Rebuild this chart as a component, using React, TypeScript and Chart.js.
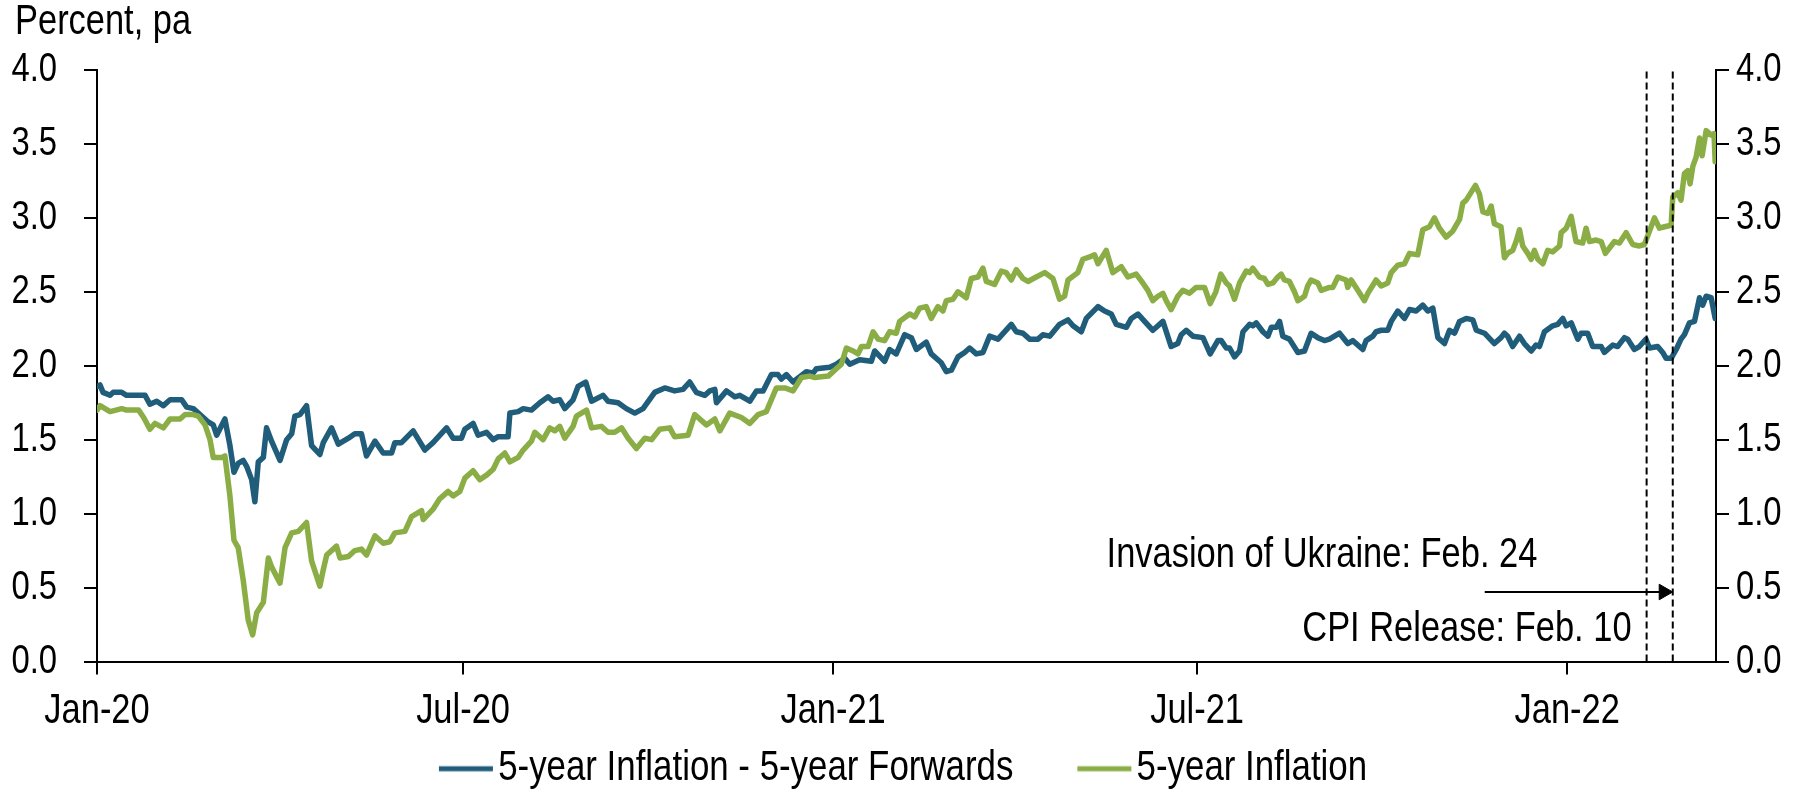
import React, { useEffect, useRef } from "react";
import { Chart, registerables } from "chart.js";

Chart.register(...registerables);

const FONT = "'Liberation Sans', Arial, sans-serif";
const NARROW = 0.82; // horizontal condensing, to mimic a narrow sans face
const BLUE = "#1F5D7A";
const GREEN = "#8AAE45";

// x axis: days since 1 Jan 2020
const tickDays = [0, 182, 366, 547, 731];
const tickLabels = ["Jan-20", "Jul-20", "Jan-21", "Jul-21", "Jan-22"];
const yTickValues = [0, 0.5, 1, 1.5, 2, 2.5, 3, 3.5, 4];
const seriesNames = ["5-year Inflation - 5-year Forwards", "5-year Inflation"];
const axisTitle = "Percent, pa";

const blueDays = [
  0, 1.5, 3, 6.5, 8, 12.3, 14.7, 21.4, 23.9, 26.3, 29.7, 33, 36.3, 42.1, 44.6, 47.9, 51.2, 55.3, 57.8, 59.5,
  63.6, 66.1, 68.1, 70.2, 72.7, 74.4, 76.9, 78.5, 80.2, 82.7, 84.3, 86.8, 91, 94.3, 96.8, 98.4, 100.9, 104.2, 106.7, 110.8,
  112.5, 116.6, 120, 125, 128.2, 131.5, 134, 138.2, 142.3, 146.5, 148.1, 151.4, 157.2, 163, 167.1, 173.8, 177.1, 181.2, 182.9, 187,
  189.5, 193.7, 197, 199.5, 204.4, 205.3, 209.4, 211.9, 216, 220.2, 224.3, 226.8, 230.1, 232.6, 236.7, 239.2, 243, 245.9, 251.6, 254.1,
  259.1, 263.2, 267.4, 271.5, 277.3, 282.3, 287.2, 291.4, 294.7, 298, 302.2, 304.7, 307.2, 308, 313, 317.1, 319.6, 324.6, 327.9, 331.2,
  335.3, 338.6, 340.3, 342.8, 346.1, 352.7, 356, 357.7, 364.3, 367.6, 371.8, 374.3, 379.2, 385, 386.7, 391.6, 394.1, 397.4, 401.6, 404.9,
  407.4, 412.3, 414.8, 419.8, 422.3, 424.8, 428.1, 431.4, 433.9, 437.2, 440.5, 443.8, 448, 454.6, 457.1, 460.4, 463.7, 467.9, 470.3, 473.7,
  478.6, 482.8, 485.3, 489.4, 491.9, 497.7, 501, 504.3, 506.8, 511.8, 514.3, 517.6, 520.9, 525, 530, 534.1, 537.4, 539.1, 541.6, 544.9,
  549.9, 553.5, 557.3, 559, 561.5, 563.1, 565.6, 568.1, 569.8, 573.1, 574.7, 576.4, 579.7, 582.2, 583.9, 586.3, 588, 589.6, 592.9, 597.1,
  600.4, 603.7, 607, 610.3, 612.8, 617.8, 621.9, 624.4, 629.4, 631, 634.4, 636, 638.5, 641.8, 643.5, 646.8, 650.1, 652.6, 655.9, 659.2,
  661.7, 664.2, 666.7, 670, 672.5, 675, 677.5, 680.8, 684.1, 685.8, 689.9, 694.8, 698.1, 699.8, 701.4, 703.9, 707.3, 709.7, 713.1, 715.5,
  717.2, 719.7, 723.8, 726.3, 728.8, 730.5, 733, 736.3, 737.9, 741.2, 743.7, 747.9, 749.5, 753.7, 756.1, 759.5, 761.1, 764.4, 766.9, 770.2,
  771.9, 776, 778.5, 780.2, 782.7, 785.2, 787.6, 789.3, 791.8, 794.3, 796.8, 798.4, 800.1, 802.6, 804.6,
];
const blueValues = [
  1.86, 1.87, 1.82, 1.80, 1.82, 1.82, 1.80, 1.80, 1.80, 1.74, 1.76, 1.73, 1.77, 1.77, 1.72, 1.71, 1.67, 1.62, 1.60, 1.53,
  1.64, 1.46, 1.28, 1.34, 1.36, 1.32, 1.23, 1.08, 1.35, 1.38, 1.58, 1.49, 1.36, 1.50, 1.54, 1.66, 1.67, 1.73, 1.46, 1.40,
  1.48, 1.58, 1.47, 1.51, 1.54, 1.54, 1.39, 1.49, 1.41, 1.41, 1.48, 1.48, 1.56, 1.43, 1.48, 1.58, 1.51, 1.51, 1.57, 1.61,
  1.53, 1.55, 1.50, 1.52, 1.52, 1.68, 1.69, 1.71, 1.70, 1.75, 1.79, 1.76, 1.77, 1.71, 1.77, 1.86, 1.89, 1.76, 1.80, 1.76,
  1.75, 1.71, 1.68, 1.71, 1.82, 1.85, 1.83, 1.84, 1.89, 1.82, 1.80, 1.83, 1.84, 1.75, 1.83, 1.79, 1.80, 1.76, 1.83, 1.83,
  1.94, 1.94, 1.91, 1.94, 1.89, 1.96, 1.95, 1.98, 1.99, 2.01, 2.05, 2.01, 2.04, 2.03, 2.10, 2.03, 2.11, 2.08, 2.21, 2.19,
  2.11, 2.16, 2.08, 2.02, 1.96, 1.97, 2.06, 2.09, 2.12, 2.08, 2.09, 2.20, 2.18, 2.28, 2.23, 2.22, 2.18, 2.18, 2.21, 2.20,
  2.28, 2.31, 2.27, 2.23, 2.32, 2.40, 2.37, 2.35, 2.28, 2.26, 2.32, 2.35, 2.30, 2.24, 2.30, 2.13, 2.15, 2.21, 2.24, 2.20,
  2.19, 2.08, 2.17, 2.17, 2.12, 2.12, 2.06, 2.10, 2.23, 2.28, 2.27, 2.29, 2.23, 2.20, 2.26, 2.26, 2.30, 2.20, 2.18, 2.09,
  2.10, 2.22, 2.19, 2.17, 2.18, 2.22, 2.15, 2.17, 2.11, 2.17, 2.20, 2.23, 2.24, 2.24, 2.30, 2.37, 2.32, 2.38, 2.37, 2.41,
  2.37, 2.39, 2.19, 2.15, 2.24, 2.22, 2.30, 2.32, 2.31, 2.24, 2.22, 2.15, 2.19, 2.22, 2.20, 2.13, 2.20, 2.15, 2.10, 2.14,
  2.13, 2.23, 2.27, 2.28, 2.32, 2.27, 2.29, 2.18, 2.22, 2.22, 2.13, 2.13, 2.09, 2.14, 2.13, 2.19, 2.18, 2.11, 2.13, 2.18,
  2.12, 2.13, 2.09, 2.05, 2.05, 2.11, 2.18, 2.21, 2.29, 2.30, 2.46, 2.41, 2.47, 2.46, 2.32,
];

const greenDays = [
  0, 1.5, 6.5, 12.3, 14.7, 20.7, 23.2, 26.3, 28.8, 33, 36.3, 41.3, 43.8, 47.9, 50.4, 53.7, 56.2, 57.8, 62, 63.6,
  66.1, 68.1, 70.2, 72.7, 75.2, 77.4, 79.4, 82.7, 85.2, 86.8, 91, 93.5, 96.8, 100.1, 104.2, 106.7, 110.8, 112.5, 114.2, 119.1,
  120.8, 125, 128.2, 131.5, 134, 138.2, 142.3, 145.6, 148.1, 153.1, 156.4, 161.4, 162.2, 167.1, 170.4, 174.6, 177.1, 180.4, 182.9, 187,
  190.3, 193.7, 197, 199.5, 202.8, 205.3, 209.4, 211.9, 216, 217.7, 221.8, 225.1, 227.6, 230.1, 232.6, 236.7, 238.4, 243.4, 245.9, 250.8,
  254.1, 257.4, 260.8, 264.1, 268.2, 272.4, 275.7, 279.8, 284.8, 287.2, 293.9, 297.2, 303, 307.2, 309.7, 314.6, 320.4, 324.6, 328.7, 332.8,
  337.8, 342, 346.1, 350.3, 354.4, 356.9, 363.6, 367.6, 370.1, 372.6, 375.9, 378.4, 380.1, 383.4, 385.9, 388.4, 391.6, 394.1, 397.4, 399.1,
  404.1, 406.6, 409, 412.3, 414.8, 418.1, 420.6, 422.3, 425.6, 428.1, 432.2, 434.7, 438, 440.5, 442.2, 446.3, 449.6, 452.1, 454.6, 457.1,
  460.4, 462.9, 467, 471.2, 475.3, 478.6, 481.1, 482.8, 487.7, 490.2, 494.3, 496, 497.7, 501.8, 505.1, 509.3, 512.6, 516.7, 520, 522.5,
  525, 527.5, 530, 531.6, 534.1, 537.4, 539.9, 543.2, 546.5, 550.7, 553.5, 556.3, 558.8, 561.5, 563.1, 565.6, 568.1, 571.4, 573.1, 574.7,
  578, 580.5, 582.2, 584.7, 587.1, 588.8, 590.4, 592.9, 595.4, 597.1, 600.4, 602, 603.7, 607, 608.7, 612.8, 614.5, 617, 621.1, 621.9,
  623.6, 626.9, 630.2, 631.9, 636, 638.5, 641.8, 643.5, 646.8, 650.1, 652.6, 656.7, 659.2, 662.5, 665, 667.5, 670.8, 674.1, 677.5, 679.1,
  680.8, 685.4, 687.4, 689.1, 691.5, 693.2, 694.8, 698.1, 699.8, 701.4, 703.9, 705.6, 707.3, 708.9, 711.4, 713.1, 714.7, 716.4, 718.9, 721.3,
  723.8, 727.2, 728, 730.5, 733, 735.4, 738.7, 740.4, 742.1, 745.4, 747.9, 750, 752.8, 754.5, 757, 760.3, 763.6, 766.9, 769.4, 771.9,
  774.4, 776.9, 779.4, 782.7, 783.5, 786, 787.6, 789.3, 791, 792.1, 793.5, 795.1, 796.8, 798.1, 800.1, 802.6, 804, 804.6,
];
const greenValues = [
  1.70, 1.73, 1.69, 1.71, 1.70, 1.70, 1.65, 1.57, 1.61, 1.58, 1.64, 1.64, 1.67, 1.67, 1.66, 1.60, 1.50, 1.38, 1.38, 1.39,
  1.12, 0.82, 0.77, 0.55, 0.28, 0.18, 0.33, 0.40, 0.70, 0.64, 0.53, 0.77, 0.87, 0.88, 0.94, 0.68, 0.51, 0.62, 0.72, 0.78,
  0.70, 0.71, 0.75, 0.76, 0.72, 0.85, 0.80, 0.81, 0.87, 0.88, 0.98, 1.02, 0.96, 1.03, 1.10, 1.15, 1.12, 1.15, 1.24, 1.29,
  1.23, 1.26, 1.30, 1.37, 1.41, 1.35, 1.38, 1.43, 1.49, 1.55, 1.50, 1.58, 1.56, 1.59, 1.51, 1.59, 1.66, 1.70, 1.58, 1.59,
  1.55, 1.55, 1.58, 1.51, 1.44, 1.51, 1.50, 1.57, 1.58, 1.52, 1.53, 1.67, 1.60, 1.64, 1.56, 1.68, 1.65, 1.61, 1.67, 1.69,
  1.85, 1.85, 1.83, 1.92, 1.93, 1.92, 1.93, 1.98, 2.01, 2.12, 2.10, 2.08, 2.13, 2.13, 2.23, 2.18, 2.17, 2.23, 2.22, 2.30,
  2.35, 2.33, 2.39, 2.40, 2.32, 2.40, 2.37, 2.44, 2.45, 2.50, 2.46, 2.59, 2.60, 2.66, 2.57, 2.55, 2.64, 2.63, 2.58, 2.65,
  2.59, 2.57, 2.60, 2.63, 2.59, 2.45, 2.47, 2.58, 2.63, 2.72, 2.74, 2.75, 2.69, 2.78, 2.63, 2.67, 2.60, 2.62, 2.56, 2.51,
  2.44, 2.47, 2.49, 2.44, 2.38, 2.47, 2.51, 2.49, 2.53, 2.53, 2.42, 2.50, 2.62, 2.56, 2.54, 2.45, 2.56, 2.64, 2.63, 2.66,
  2.60, 2.59, 2.55, 2.56, 2.60, 2.62, 2.58, 2.57, 2.50, 2.44, 2.47, 2.54, 2.58, 2.56, 2.51, 2.53, 2.53, 2.60, 2.58, 2.53,
  2.58, 2.51, 2.44, 2.49, 2.58, 2.54, 2.56, 2.63, 2.68, 2.69, 2.76, 2.75, 2.92, 2.94, 3.00, 2.93, 2.87, 2.91, 2.99, 3.10,
  3.12, 3.22, 3.16, 3.04, 3.03, 3.08, 2.96, 2.94, 2.73, 2.76, 2.78, 2.84, 2.92, 2.81, 2.76, 2.72, 2.78, 2.72, 2.69, 2.78,
  2.77, 2.81, 2.90, 2.93, 3.01, 2.84, 2.83, 2.93, 2.84, 2.85, 2.84, 2.76, 2.81, 2.84, 2.83, 2.90, 2.82, 2.81, 2.82, 2.91,
  3.00, 2.93, 2.94, 2.95, 3.14, 3.17, 3.12, 3.30, 3.32, 3.23, 3.35, 3.41, 3.54, 3.42, 3.59, 3.56, 3.57, 3.38,
];

// event markers (days since 1 Jan 2020) and their labels
const eventDays = [770.5, 783.5];
const eventLabels = ["CPI Release: Feb. 10", "Invasion of Ukraine: Feb. 24"];
const arrowDays = [690, 779];
const arrowLevel = 0.47;
const xMax = 805;

// make canvas text narrower (Arial Narrow look) by scaling glyphs horizontally
function condenseText(ctx: any) {
  if (ctx.__condensed) return;
  ctx.__condensed = true;
  const fill = ctx.fillText.bind(ctx);
  const measure = ctx.measureText.bind(ctx);
  ctx.fillText = (text: string, x: number, y: number, maxWidth?: number) => {
    ctx.save();
    ctx.translate(x, y);
    ctx.scale(NARROW, 1);
    if (maxWidth === undefined || maxWidth === null) fill(text, 0, 0);
    else fill(text, 0, 0, maxWidth / NARROW);
    ctx.restore();
  };
  ctx.measureText = (text: string) => {
    const m = measure(text);
    return {
      width: m.width * NARROW,
      actualBoundingBoxAscent: m.actualBoundingBoxAscent,
      actualBoundingBoxDescent: m.actualBoundingBoxDescent,
      actualBoundingBoxLeft: m.actualBoundingBoxLeft * NARROW,
      actualBoundingBoxRight: m.actualBoundingBoxRight * NARROW,
      fontBoundingBoxAscent: m.fontBoundingBoxAscent,
      fontBoundingBoxDescent: m.fontBoundingBoxDescent,
    };
  };
}

function legendSwatch(color: string) {
  const c = document.createElement("canvas");
  c.width = 130;
  c.height = 8;
  const g = c.getContext("2d")!;
  g.fillStyle = color;
  g.fillRect(75, 1.5, 54, 5);
  return c;
}

const annotationPlugin = {
  id: "eventText",
  afterDatasetsDraw(chart: any) {
    const { ctx, scales } = chart;
    const x = scales.x;
    const y = scales.y;
    ctx.save();
    ctx.font = `42px ${FONT}`;
    ctx.fillStyle = "#000";
    ctx.textBaseline = "middle";
    ctx.textAlign = "left";
    ctx.fillText(eventLabels[1], x.getPixelForValue(502), y.getPixelForValue(0.72));
    ctx.textAlign = "right";
    ctx.fillText(eventLabels[0], x.getPixelForValue(763), y.getPixelForValue(0.215));
    ctx.restore();
  },
};

const boxShiftPlugin = {
  id: "boxShift",
  afterLayout(chart: any) {
    const lg = chart.legend;
    if (lg) {
      lg.left -= 38;
      lg.right -= 38;
    }
    const tb = chart.titleBlock;
    if (tb) {
      tb.left += 9;
      tb.right += 9;
    }
  },
};

export default function App() {
  const ref = useRef<HTMLCanvasElement>(null);

  useEffect(() => {
    if (!ref.current) return;
    const ctx = ref.current.getContext("2d");
    condenseText(ctx);
    Chart.defaults.font.family = FONT;
    Chart.defaults.color = "#000";
    const swatches = [legendSwatch(BLUE), legendSwatch(GREEN)];

    const yAxis = (padding: number, width: number, position: "left" | "right") => ({
      type: "linear" as const,
      position,
      min: 0,
      max: 4,
      afterBuildTicks: (s: any) => {
        s.ticks = yTickValues.map((v) => ({ value: v }));
      },
      ticks: {
        padding,
        font: { size: 40, family: FONT },
        color: "#000",
        callback: (v: any) => Number(v).toFixed(1),
      },
      grid: { drawOnChartArea: false, tickLength: 13, color: "#000", lineWidth: 2 },
      border: { display: true, color: "#000", width: 2 },
      afterFit: (s: any) => {
        s.width = width;
      },
    });

    const chart = new Chart(ref.current, {
      type: "line",
      data: {
        datasets: [
          {
            label: seriesNames[0],
            data: blueDays.map((d, i) => ({ x: d, y: blueValues[i] })),
            borderColor: BLUE,
            backgroundColor: BLUE,
            borderWidth: 5.5,
            pointRadius: 0,
            borderJoinStyle: "round",
            borderCapStyle: "round",
            order: 2,
            yAxisID: "y",
          },
          {
            label: seriesNames[1],
            data: greenDays.map((d, i) => ({ x: d, y: greenValues[i] })),
            borderColor: GREEN,
            backgroundColor: GREEN,
            borderWidth: 5.5,
            pointRadius: 0,
            borderJoinStyle: "round",
            borderCapStyle: "round",
            order: 1,
            yAxisID: "y",
          },
          {
            label: eventLabels[0],
            data: [
              { x: eventDays[0], y: 0 },
              { x: eventDays[0], y: 4 },
            ],
            borderColor: "#000",
            borderWidth: 2,
            borderDash: [7, 4],
            pointRadius: 0,
            order: 0,
            yAxisID: "y",
          },
          {
            label: eventLabels[1],
            data: [
              { x: eventDays[1], y: 0 },
              { x: eventDays[1], y: 4 },
            ],
            borderColor: "#000",
            borderWidth: 2,
            borderDash: [7, 4],
            pointRadius: 0,
            order: 0,
            yAxisID: "y",
          },
          {
            label: "arrow",
            data: [
              { x: arrowDays[0], y: arrowLevel },
              { x: arrowDays[1], y: arrowLevel },
            ],
            borderColor: "#000",
            borderWidth: 2,
            pointRadius: [0, 9],
            pointStyle: "triangle",
            pointRotation: 90,
            pointBackgroundColor: "#000",
            pointBorderColor: "#000",
            pointBorderWidth: 1,
            order: 0,
            yAxisID: "y",
          },
        ] as any,
      },
      options: {
        responsive: false,
        animation: false,
        devicePixelRatio: 1,
        events: [],
        layout: { padding: { left: 6, right: 0, top: 0, bottom: 0 } },
        scales: {
          x: {
            type: "linear",
            min: 0,
            max: xMax,
            afterBuildTicks: (s: any) => {
              s.ticks = tickDays.map((v) => ({ value: v }));
            },
            ticks: {
              autoSkip: false,
              maxRotation: 0,
              padding: 12,
              font: { size: 42, family: FONT },
              color: "#000",
              callback: (v: any) => {
                const i = tickDays.indexOf(Number(v));
                return i >= 0 ? tickLabels[i] : "";
              },
            },
            grid: { drawOnChartArea: false, tickLength: 13, color: "#000", lineWidth: 2 },
            border: { display: true, color: "#000", width: 2 },
            afterFit: (s: any) => {
              s.height = 80;
            },
          },
          y: yAxis(27, 91, "left"),
          y2: yAxis(7, 102, "right"),
        } as any,
        plugins: {
          title: {
            display: true,
            text: axisTitle,
            align: "start",
            color: "#000",
            font: { size: 42, weight: "normal", family: FONT, lineHeight: 1.05 },
            padding: { top: 0, bottom: 25.9 },
          },
          legend: {
            display: true,
            position: "bottom",
            labels: {
              usePointStyle: true,
              pointStyleWidth: 96,
              padding: 6,
              color: "#000",
              font: { size: 42.5, family: FONT },
              generateLabels: (c: any) => {
                const base = (Chart.defaults.plugins.legend.labels as any).generateLabels(c);
                return base
                  .filter((it: any) => it.datasetIndex < 2)
                  .sort((a: any, b: any) => a.datasetIndex - b.datasetIndex)
                  .map((it: any) => ({ ...it, pointStyle: swatches[it.datasetIndex], rotation: 0 }));
              },
            },
          },
          tooltip: { enabled: false },
        },
      } as any,
      plugins: [annotationPlugin, boxShiftPlugin],
    });

    return () => chart.destroy();
  }, []);

  return (
    <div style={{ position: "fixed", left: 0, top: 0, width: 1818, height: 800, background: "#fff" }}>
      <canvas ref={ref} width={1818} height={800} style={{ display: "block", width: 1818, height: 800 }} />
    </div>
  );
}
